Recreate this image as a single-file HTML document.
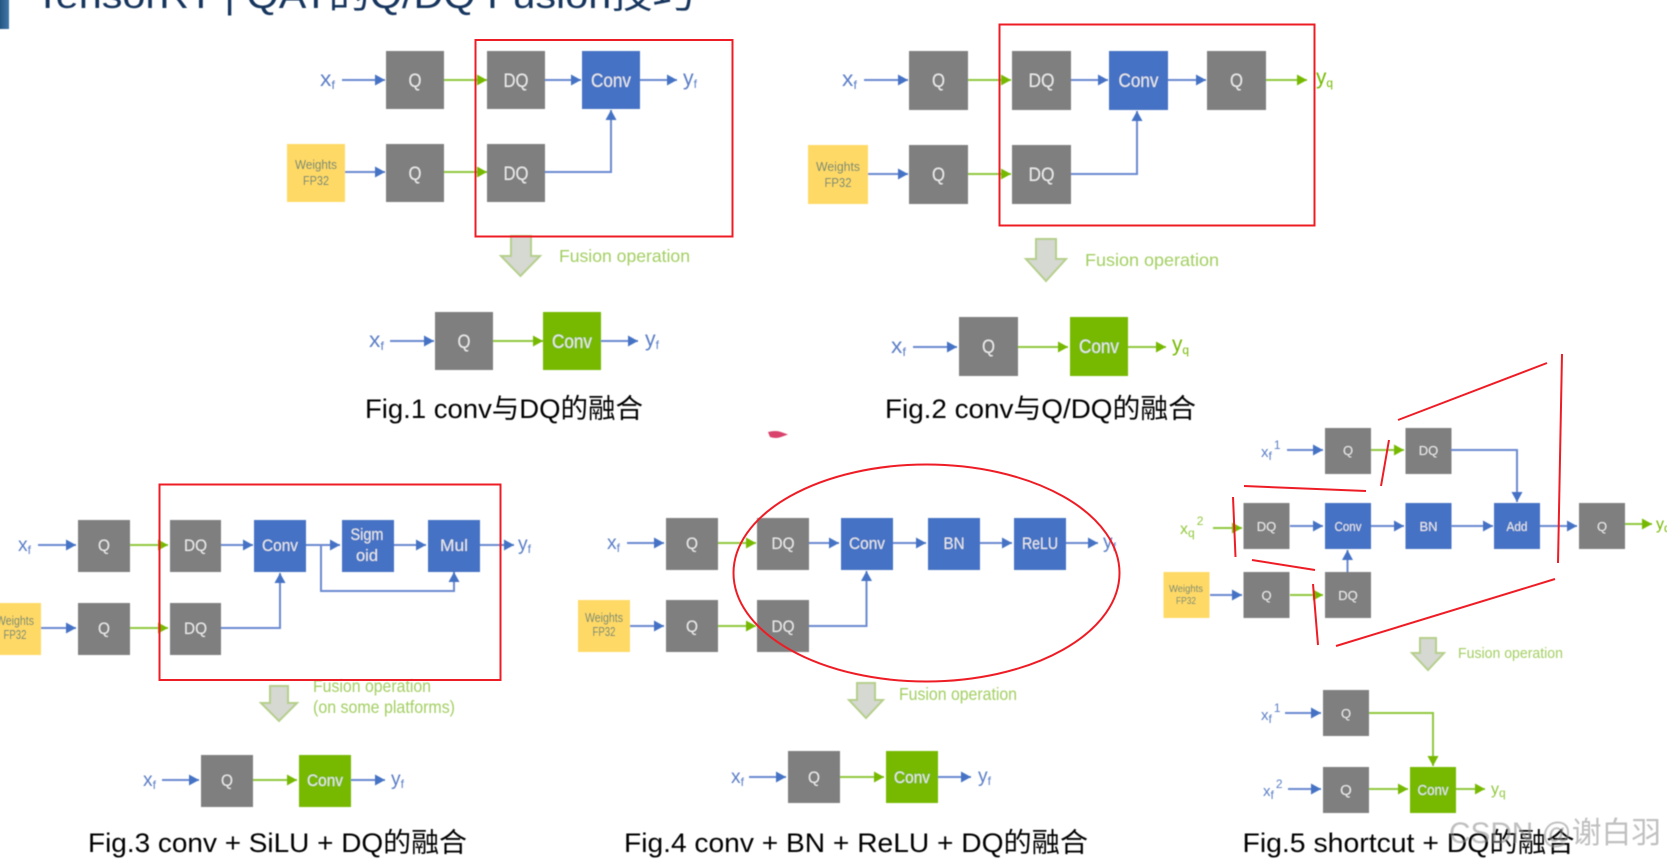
<!DOCTYPE html>
<html><head><meta charset="utf-8"><style>
html,body{margin:0;padding:0;background:#fff;width:1667px;height:863px;overflow:hidden}
svg{display:block}
text{font-family:"Liberation Sans","Noto Sans CJK SC",sans-serif}
.q{fill:#7f7f7f}.b{fill:#4472c4}.g{fill:#76b900}.y{fill:#ffd966}
.t{fill:#eaeaea;font-size:16.5px;text-anchor:middle}
.l{font-size:19px}
.s{font-size:13px}
.w{fill:#628472;font-size:12.5px;text-anchor:middle}
.lb{stroke:#6a8ad0;stroke-width:2;fill:none;marker-end:url(#mb)}
.lg{stroke:#92c83e;stroke-width:2;fill:none;marker-end:url(#mg)}
.xb{fill:#5b7ec6;font-size:21px}
.xg{fill:#76b900;font-size:21px}
.sub{font-size:12px}
.f{fill:#a3cf62;font-size:17.5px}
.cap{fill:#000;font-size:27px}
.ar{fill:#d6d8d2;stroke:#b5cf8a;stroke-width:2}
.r{stroke:#ee1c25;stroke-width:2;fill:none}
</style></head><body>
<svg width="1667" height="863" viewBox="0 0 1667 863" xmlns="http://www.w3.org/2000/svg">
<defs>
<marker id="mb" markerUnits="userSpaceOnUse" markerWidth="12" markerHeight="12" refX="10" refY="5.5" orient="auto"><path d="M0 0L10 5.5L0 11Z" fill="#4472c4"/></marker>
<marker id="mg" markerUnits="userSpaceOnUse" markerWidth="12" markerHeight="12" refX="10" refY="5.5" orient="auto"><path d="M0 0L10 5.5L0 11Z" fill="#76b900"/></marker>
<linearGradient id="bar" x1="0" x2="1"><stop offset="0" stop-color="#1f4e79"/><stop offset="1" stop-color="#3f78ab"/></linearGradient>
<filter id="bl" filterUnits="userSpaceOnUse" x="-20" y="-20" width="1707" height="903"><feGaussianBlur stdDeviation="0.45"/></filter>
</defs>
<rect width="1667" height="863" fill="#fff"/>
<g filter="url(#bl)">
<!-- title -->
<rect x="-2" y="-2" width="11" height="31" fill="url(#bar)"/>
<text x="35" y="8" font-size="37" fill="#17365d" textLength="659" lengthAdjust="spacingAndGlyphs">TensorRT | QAT的Q/DQ Fusion技巧</text>

<!-- FIG 1 -->
<rect class="q" x="386" y="51" width="58" height="58"/><text class="t l" x="415" y="87" textLength="13" lengthAdjust="spacingAndGlyphs">Q</text>
<rect class="q" x="487" y="51" width="58" height="58"/><text class="t l" x="516" y="87" textLength="25" lengthAdjust="spacingAndGlyphs">DQ</text>
<rect class="b" x="582" y="51" width="58" height="58"/><text class="t l" x="611" y="87" textLength="40" lengthAdjust="spacingAndGlyphs">Conv</text>
<rect class="y" x="287" y="144" width="58" height="58"/><text class="w" x="316" y="169" textLength="42" lengthAdjust="spacingAndGlyphs">Weights</text><text class="w" x="316" y="185" textLength="26" lengthAdjust="spacingAndGlyphs">FP32</text>
<rect class="q" x="386" y="144" width="58" height="58"/><text class="t l" x="415" y="180" textLength="13" lengthAdjust="spacingAndGlyphs">Q</text>
<rect class="q" x="487" y="144" width="58" height="58"/><text class="t l" x="516" y="180" textLength="25" lengthAdjust="spacingAndGlyphs">DQ</text>
<text class="xb" x="320" y="86" textLength="15" lengthAdjust="spacingAndGlyphs">x<tspan class="sub" dy="3">f</tspan></text>
<path class="lb" d="M342 80H385"/><path class="lg" d="M444 80H487"/><path class="lb" d="M545 80H581"/><path class="lb" d="M640 80H677"/>
<text class="xb" x="683" y="85" textLength="14" lengthAdjust="spacingAndGlyphs">y<tspan class="sub" dy="3">f</tspan></text>
<path class="lb" d="M345 172H385"/><path class="lg" d="M444 172H487"/><path class="lb" d="M545 172H611V110"/>
<path class="ar" d="M511 236H531V256H540L520.500 276L501 256H511Z"/>
<text class="f" x="559" y="262" textLength="131" lengthAdjust="spacingAndGlyphs">Fusion operation</text>
<text class="xb" x="369" y="347" textLength="15" lengthAdjust="spacingAndGlyphs">x<tspan class="sub" dy="3">f</tspan></text>
<path class="lb" d="M390 341H434"/>
<rect class="q" x="435" y="312" width="58" height="58"/><text class="t l" x="464" y="348" textLength="13" lengthAdjust="spacingAndGlyphs">Q</text>
<path class="lg" d="M493 341H543"/>
<rect class="g" x="543" y="312" width="58" height="58"/><text class="t l" x="572" y="348" textLength="40" lengthAdjust="spacingAndGlyphs">Conv</text>
<path class="lb" d="M601 341H638"/>
<text class="xb" x="645" y="346" textLength="14" lengthAdjust="spacingAndGlyphs">y<tspan class="sub" dy="3">f</tspan></text>
<text class="cap" x="365" y="418" textLength="278" lengthAdjust="spacingAndGlyphs">Fig.1 conv与DQ的融合</text>

<!-- FIG 2 -->
<text class="xb" x="842" y="86" textLength="15" lengthAdjust="spacingAndGlyphs">x<tspan class="sub" dy="3">f</tspan></text>
<path class="lb" d="M864 80H908"/>
<rect class="q" x="909" y="51" width="59" height="59"/><text class="t l" x="938.500" y="87" textLength="13" lengthAdjust="spacingAndGlyphs">Q</text>
<path class="lg" d="M968 80H1011"/>
<rect class="q" x="1012" y="51" width="59" height="59"/><text class="t l" x="1041.500" y="87" textLength="26" lengthAdjust="spacingAndGlyphs">DQ</text>
<path class="lb" d="M1071 80H1108"/>
<rect class="b" x="1109" y="51" width="59" height="59"/><text class="t l" x="1138.500" y="87" textLength="40" lengthAdjust="spacingAndGlyphs">Conv</text>
<path class="lb" d="M1168 80H1206"/>
<rect class="q" x="1207" y="51" width="59" height="59"/><text class="t l" x="1236.500" y="87" textLength="13" lengthAdjust="spacingAndGlyphs">Q</text>
<path class="lg" d="M1266 80H1307"/>
<text class="xg" x="1316" y="84" textLength="17" lengthAdjust="spacingAndGlyphs">y<tspan class="sub" dy="3">q</tspan></text>
<rect class="y" x="808" y="145" width="60" height="59"/><text class="w" x="838" y="171" textLength="44" lengthAdjust="spacingAndGlyphs">Weights</text><text class="w" x="838" y="187" textLength="27" lengthAdjust="spacingAndGlyphs">FP32</text>
<path class="lb" d="M868 174H908"/>
<rect class="q" x="909" y="145" width="59" height="59"/><text class="t l" x="938.500" y="181" textLength="13" lengthAdjust="spacingAndGlyphs">Q</text>
<path class="lg" d="M968 174H1011"/>
<rect class="q" x="1012" y="145" width="59" height="59"/><text class="t l" x="1041.500" y="181" textLength="26" lengthAdjust="spacingAndGlyphs">DQ</text>
<path class="lb" d="M1071 174H1137V111"/>
<path class="ar" d="M1036 239H1056V259H1066L1046 281L1026 259H1036Z"/>
<text class="f" x="1085" y="266" textLength="134" lengthAdjust="spacingAndGlyphs">Fusion operation</text>
<text class="xb" x="891" y="353" textLength="15" lengthAdjust="spacingAndGlyphs">x<tspan class="sub" dy="3">f</tspan></text>
<path class="lb" d="M913 347H957"/>
<rect class="q" x="959" y="317" width="59" height="59"/><text class="t l" x="988.500" y="353" textLength="13" lengthAdjust="spacingAndGlyphs">Q</text>
<path class="lg" d="M1018 347H1068"/>
<rect class="g" x="1070" y="317" width="58" height="59"/><text class="t l" x="1099" y="353" textLength="40" lengthAdjust="spacingAndGlyphs">Conv</text>
<path class="lg" d="M1128 347H1166"/>
<text class="xg" x="1172" y="351" textLength="17" lengthAdjust="spacingAndGlyphs">y<tspan class="sub" dy="3">q</tspan></text>
<text class="cap" x="885" y="418" textLength="311" lengthAdjust="spacingAndGlyphs">Fig.2 conv与Q/DQ的融合</text>

<!-- FIG 3 -->
<text class="xb" x="18" y="551" style="font-size:19px" textLength="13" lengthAdjust="spacingAndGlyphs">x<tspan class="sub" dy="3">f</tspan></text>
<path class="lb" d="M38 545H76"/>
<rect class="q" x="78" y="520" width="52" height="52"/><text class="t" x="104" y="551" textLength="12" lengthAdjust="spacingAndGlyphs">Q</text>
<path class="lg" d="M130 545H168"/>
<rect class="q" x="170" y="520" width="51" height="52"/><text class="t" x="195.500" y="551" textLength="23" lengthAdjust="spacingAndGlyphs">DQ</text>
<path class="lb" d="M221 545H253"/>
<rect class="b" x="254" y="520" width="52" height="52"/><text class="t" x="280" y="551" textLength="36" lengthAdjust="spacingAndGlyphs">Conv</text>
<path class="lb" d="M306 545H340"/>
<rect class="b" x="342" y="520" width="52" height="52"/><text class="t" x="367" y="540" textLength="33" lengthAdjust="spacingAndGlyphs">Sigm</text><text class="t" x="367" y="561" textLength="22" lengthAdjust="spacingAndGlyphs">oid</text>
<path class="lb" d="M394 545H426"/>
<rect class="b" x="428" y="520" width="52" height="52"/><text class="t" x="454" y="551" textLength="28" lengthAdjust="spacingAndGlyphs">Mul</text>
<path class="lb" d="M480 545H514"/>
<text class="xb" x="518" y="550" style="font-size:19px" textLength="13" lengthAdjust="spacingAndGlyphs">y<tspan class="sub" dy="3">f</tspan></text>
<path class="lb" d="M321 545V591H454V572"/>
<rect class="y" x="-11" y="603" width="52" height="52"/><text class="w" x="15" y="625" textLength="38" lengthAdjust="spacingAndGlyphs">Weights</text><text class="w" x="15" y="639" textLength="23" lengthAdjust="spacingAndGlyphs">FP32</text>
<path class="lb" d="M41 628H76"/>
<rect class="q" x="78" y="603" width="52" height="52"/><text class="t" x="104" y="634" textLength="12" lengthAdjust="spacingAndGlyphs">Q</text>
<path class="lg" d="M130 628H168"/>
<rect class="q" x="170" y="603" width="51" height="52"/><text class="t" x="195.500" y="634" textLength="23" lengthAdjust="spacingAndGlyphs">DQ</text>
<path class="lb" d="M221 628H280V573"/>
<path class="ar" d="M270 686H288V703H297L279 721L261 703H270Z"/>
<text class="f" x="313" y="692" textLength="118" lengthAdjust="spacingAndGlyphs">Fusion operation</text>
<text class="f" x="313" y="713" textLength="142" lengthAdjust="spacingAndGlyphs">(on some platforms)</text>
<text class="xb" x="143" y="786" style="font-size:19px" textLength="13" lengthAdjust="spacingAndGlyphs">x<tspan class="sub" dy="3">f</tspan></text>
<path class="lb" d="M162 780H199"/>
<rect class="q" x="201" y="755" width="52" height="52"/><text class="t" x="227" y="786" textLength="12" lengthAdjust="spacingAndGlyphs">Q</text>
<path class="lg" d="M253 780H297"/>
<rect class="g" x="299" y="755" width="52" height="52"/><text class="t" x="325" y="786" textLength="36" lengthAdjust="spacingAndGlyphs">Conv</text>
<path class="lb" d="M351 780H385"/>
<text class="xb" x="391" y="785" style="font-size:19px" textLength="13" lengthAdjust="spacingAndGlyphs">y<tspan class="sub" dy="3">f</tspan></text>
<text class="cap" x="88" y="852" textLength="379" lengthAdjust="spacingAndGlyphs">Fig.3 conv + SiLU + DQ的融合</text>

<!-- FIG 4 -->
<text class="xb" x="607" y="549" style="font-size:19px" textLength="13" lengthAdjust="spacingAndGlyphs">x<tspan class="sub" dy="3">f</tspan></text>
<path class="lb" d="M627 543H664"/>
<rect class="q" x="666" y="518" width="52" height="52"/><text class="t" x="692" y="549" textLength="12" lengthAdjust="spacingAndGlyphs">Q</text>
<path class="lg" d="M718 543H756"/>
<rect class="q" x="757" y="518" width="52" height="52"/><text class="t" x="783" y="549" textLength="23" lengthAdjust="spacingAndGlyphs">DQ</text>
<path class="lb" d="M809 543H839"/>
<rect class="b" x="841" y="518" width="52" height="52"/><text class="t" x="867" y="549" textLength="36" lengthAdjust="spacingAndGlyphs">Conv</text>
<path class="lb" d="M893 543H926"/>
<rect class="b" x="928" y="518" width="52" height="52"/><text class="t" x="954" y="549" textLength="21" lengthAdjust="spacingAndGlyphs">BN</text>
<path class="lb" d="M980 543H1012"/>
<rect class="b" x="1014" y="518" width="52" height="52"/><text class="t" x="1040" y="549" textLength="36" lengthAdjust="spacingAndGlyphs">ReLU</text>
<path class="lb" d="M1066 543H1098"/>
<text class="xb" x="1103" y="548" style="font-size:19px" textLength="13" lengthAdjust="spacingAndGlyphs">y<tspan class="sub" dy="3">f</tspan></text>
<rect class="y" x="578" y="600" width="52" height="52"/><text class="w" x="604" y="622" textLength="38" lengthAdjust="spacingAndGlyphs">Weights</text><text class="w" x="604" y="636" textLength="23" lengthAdjust="spacingAndGlyphs">FP32</text>
<path class="lb" d="M630 626H664"/>
<rect class="q" x="666" y="600" width="52" height="52"/><text class="t" x="692" y="632" textLength="12" lengthAdjust="spacingAndGlyphs">Q</text>
<path class="lg" d="M718 626H756"/>
<rect class="q" x="757" y="600" width="52" height="52"/><text class="t" x="783" y="632" textLength="23" lengthAdjust="spacingAndGlyphs">DQ</text>
<path class="lb" d="M809 626H866.500V571"/>
<path class="ar" d="M857 683H875V700H883L866 718L849 700H857Z"/>
<text class="f" x="899" y="700" textLength="118" lengthAdjust="spacingAndGlyphs">Fusion operation</text>
<text class="xb" x="731" y="783" style="font-size:19px" textLength="13" lengthAdjust="spacingAndGlyphs">x<tspan class="sub" dy="3">f</tspan></text>
<path class="lb" d="M749 777H786"/>
<rect class="q" x="788" y="751" width="52" height="52"/><text class="t" x="814" y="783" textLength="12" lengthAdjust="spacingAndGlyphs">Q</text>
<path class="lg" d="M840 777H884"/>
<rect class="g" x="886" y="751" width="52" height="52"/><text class="t" x="912" y="783" textLength="36" lengthAdjust="spacingAndGlyphs">Conv</text>
<path class="lb" d="M938 777H971"/>
<text class="xb" x="978" y="782" style="font-size:19px" textLength="13" lengthAdjust="spacingAndGlyphs">y<tspan class="sub" dy="3">f</tspan></text>
<text class="cap" x="624" y="852" textLength="464" lengthAdjust="spacingAndGlyphs">Fig.4 conv + BN + ReLU + DQ的融合</text>

<!-- FIG 5 -->
<text class="xb" x="1261" y="457" style="font-size:15px">x<tspan class="sub" dy="3">f</tspan><tspan class="sub" dy="-11" dx="2">1</tspan></text>
<path class="lb" d="M1287 450H1323"/>
<rect class="q" x="1325" y="428" width="46" height="46"/><text class="t s" x="1348" y="455">Q</text>
<path class="lg" d="M1371 450H1404"/>
<rect class="q" x="1405.500" y="428" width="46" height="46"/><text class="t s" x="1428.500" y="455">DQ</text>
<path class="lb" d="M1451 450H1517V502"/>
<text class="xg" x="1180" y="534" style="fill:#92c83e;font-size:16px">x<tspan class="sub" dy="3">q</tspan><tspan class="sub" dy="-12" dx="2">2</tspan></text>
<path class="lg" d="M1213 528H1242"/>
<rect class="q" x="1243.500" y="503" width="46" height="46"/><text class="t s" x="1266.500" y="531">DQ</text>
<path class="lb" d="M1290 526H1323"/>
<rect class="b" x="1325" y="503" width="46" height="46"/><text class="t s" x="1348" y="531" textLength="27" lengthAdjust="spacingAndGlyphs">Conv</text>
<path class="lb" d="M1371 526H1404"/>
<rect class="b" x="1405.500" y="503" width="46" height="46"/><text class="t s" x="1428.500" y="531">BN</text>
<path class="lb" d="M1451 526H1493"/>
<rect class="b" x="1494" y="503" width="46" height="46"/><text class="t s" x="1517" y="531" textLength="21" lengthAdjust="spacingAndGlyphs">Add</text>
<path class="lb" d="M1540 526H1577"/>
<rect class="q" x="1579" y="503" width="46" height="46"/><text class="t s" x="1602" y="531">Q</text>
<path class="lg" d="M1625 524H1652"/>
<text class="xg" x="1656" y="529" style="font-size:16px">y<tspan class="sub" dy="3">q</tspan></text>
<rect class="y" x="1163.500" y="572" width="46" height="46"/><text class="w" style="font-size:10px" x="1186" y="592" textLength="34" lengthAdjust="spacingAndGlyphs">Weights</text><text class="w" style="font-size:10px" x="1186" y="604" textLength="20" lengthAdjust="spacingAndGlyphs">FP32</text>
<path class="lb" d="M1210 595H1242"/>
<rect class="q" x="1243.500" y="572" width="46" height="46"/><text class="t s" x="1266.500" y="600">Q</text>
<path class="lg" d="M1290 595H1323"/>
<rect class="q" x="1325" y="572" width="46" height="46"/><text class="t s" x="1348" y="600">DQ</text>
<path class="lb" d="M1347.500 572V550"/>
<path class="ar" d="M1420 638H1436V653H1444L1428 670L1412 653H1420Z"/>
<text class="f" style="font-size:15px" x="1458" y="658" textLength="105" lengthAdjust="spacingAndGlyphs">Fusion operation</text>
<text class="xb" x="1261" y="720" style="font-size:15px">x<tspan class="sub" dy="3">f</tspan><tspan class="sub" dy="-11" dx="2">1</tspan></text>
<path class="lb" d="M1285 713H1321"/>
<rect class="q" x="1323" y="690" width="46" height="46"/><text class="t s" x="1346" y="718">Q</text>
<path class="lg" d="M1369 713H1433V766"/>
<text class="xb" x="1263" y="796" style="font-size:15px">x<tspan class="sub" dy="3">f</tspan><tspan class="sub" dy="-11" dx="2">2</tspan></text>
<path class="lb" d="M1288 789H1321"/>
<rect class="q" x="1323" y="767" width="46" height="46"/><text class="t" style="font-size:15px" x="1346" y="795">Q</text>
<path class="lg" d="M1369 789H1408"/>
<rect class="g" x="1410" y="767" width="46" height="46"/><text class="t" style="font-size:15px" x="1433" y="795" textLength="31" lengthAdjust="spacingAndGlyphs">Conv</text>
<path class="lg" d="M1456 789H1485"/>
<text class="xg" x="1491" y="794" style="font-size:16px;fill:#92c83e">y<tspan class="sub" dy="3">q</tspan></text>
<text class="cap" x="1242.500" y="852" textLength="332" lengthAdjust="spacingAndGlyphs">Fig.5 shortcut + DQ的融合</text>
<text x="1449" y="843" font-size="30" fill="#8a8a8a" fill-opacity="0.55" textLength="212" lengthAdjust="spacingAndGlyphs">CSDN @谢白羽</text>
</g>

<!-- red annotations -->
<rect class="r" x="475.500" y="40" width="257" height="196.500"/>
<rect class="r" x="999.500" y="24.500" width="315" height="201"/>
<rect class="r" x="159.500" y="484.500" width="341" height="195.500"/>
<ellipse class="r" cx="926.500" cy="573" rx="193" ry="108.500" stroke-width="1.600"/>
<path class="r" d="M1398 420L1547 363"/>
<path class="r" d="M1562 354L1558 563"/>
<path class="r" d="M1555 579L1336 646"/>
<path class="r" d="M1318 645L1313 584"/>
<path class="r" d="M1315 570L1252 560"/>
<path class="r" d="M1235.500 557L1233 497"/>
<path class="r" d="M1244 486L1366 491"/>
<path class="r" d="M1381 486L1389 440"/>
<path d="M768 432Q776 430 781 432L788 434.500L781 437Q776 439 770 437Z" fill="#d8436c" filter="url(#bl)"/>
</svg>
</body></html>
